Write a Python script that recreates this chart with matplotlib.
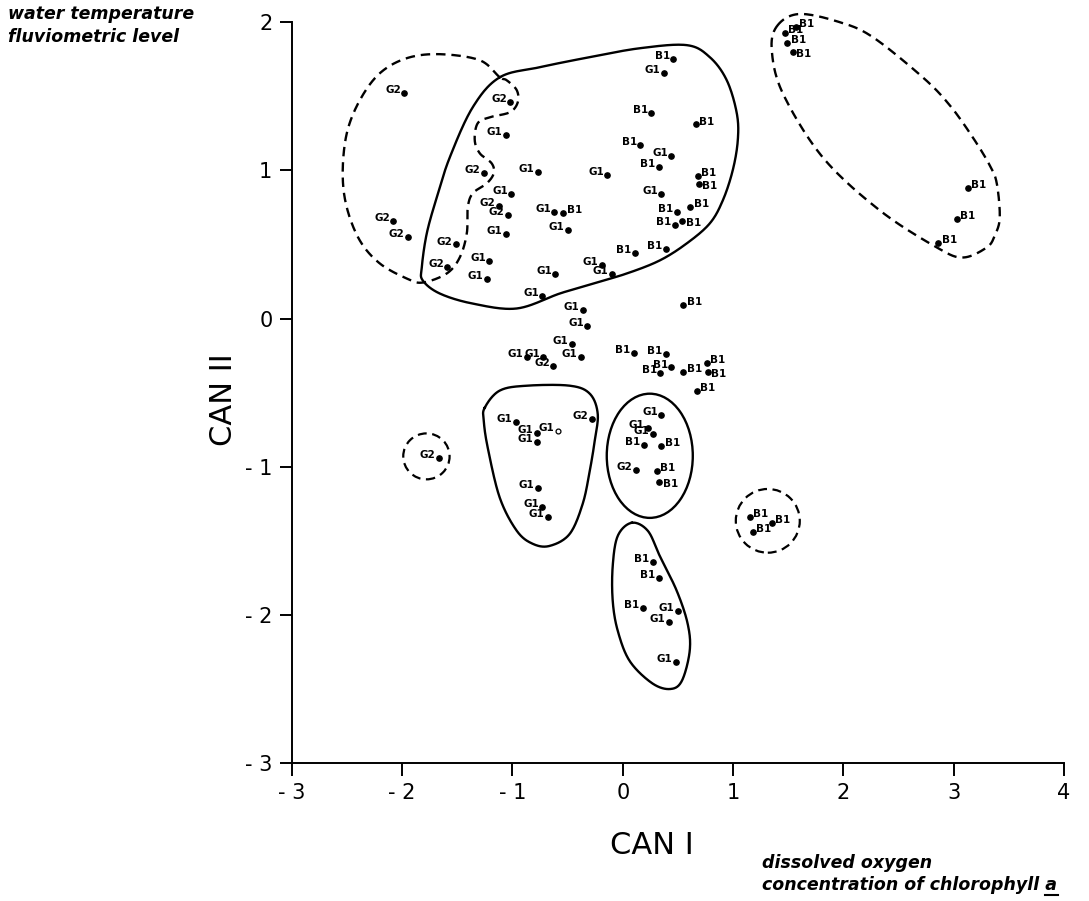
import numpy as np
import matplotlib
matplotlib.use("Agg")
import matplotlib.pyplot as plt
from matplotlib.patches import Ellipse
from matplotlib.lines import Line2D

# canonical scores
g1_x = [-1.06, -0.77, -0.14, -1.01, -0.62, -0.50, -1.06, -1.21, -1.23, -0.61, -0.19, -0.10,
        -0.73, -0.36, 0.37, 0.44, 0.35, -0.32, -0.46, -0.87, -0.72, -0.38, -0.97, -0.78,
        -0.78, -0.77, -0.73, -0.68, 0.35, 0.23, 0.27, 0.50, 0.42, 0.48]
g1_y = [1.24, 0.99, 0.97, 0.84, 0.72, 0.60, 0.57, 0.39, 0.27, 0.30, 0.36, 0.30,
        0.15, 0.06, 1.66, 1.10, 0.84, -0.05, -0.17, -0.26, -0.26, -0.26, -0.70, -0.77,
        -0.83, -1.14, -1.27, -1.34, -0.65, -0.74, -0.78, -1.97, -2.05, -2.32]
g1_open_x = [-0.59]
g1_open_y = [-0.76]

g2_x = [-1.98, -1.02, -1.26, -1.12, -1.04, -2.08, -1.95, -1.51, -1.59, -0.63, -0.28, 0.12, -1.67]
g2_y = [1.52, 1.46, 0.98, 0.76, 0.70, 0.66, 0.55, 0.50, 0.35, -0.32, -0.68, -1.02, -0.94]

b1_x = [-0.54, 0.46, 0.26, 0.66, 0.16, 0.33, 0.68, 0.69, 0.49, 0.61, 0.47, 0.54, 0.11, 0.39,
        0.55, 0.10, 0.39, 0.44, 0.34, 0.55, 0.76, 0.77, 0.67, 0.19, 0.35, 0.31, 0.33,
        0.27, 0.33, 0.18, 1.57, 1.47, 1.49, 1.54, 3.13, 3.03, 2.86, 1.15, 1.35, 1.18]
b1_y = [0.71, 1.75, 1.39, 1.31, 1.17, 1.02, 0.96, 0.91, 0.72, 0.75, 0.63, 0.66, 0.44, 0.47,
        0.09, -0.23, -0.24, -0.33, -0.37, -0.36, -0.30, -0.36, -0.49, -0.85, -0.86, -1.03, -1.10,
        -1.64, -1.75, -1.95, 1.97, 1.93, 1.86, 1.80, 0.88, 0.67, 0.51, -1.34, -1.38, -1.44]
# label side: l = left, r = right, R = right and below
b1_side = ['r', 'l', 'l', 'r', 'l', 'l', 'r', 'R', 'l', 'r', 'l', 'R', 'l', 'l',
           'r', 'l', 'l', 'l', 'l', 'r', 'r', 'R', 'r', 'l', 'r', 'r', 'R',
           'l', 'l', 'l', 'r', 'r', 'r', 'R', 'r', 'r', 'r', 'r', 'r', 'r']

# hand-drawn group outlines (data units)
blob_x = [-1.115, -0.752, -0.299, 0.154, 0.580, 0.789, 0.943, 1.034, 1.043, 0.997, 0.907, 0.789,
          0.580, 0.335, 0.036, -0.272, -0.571, -0.961, -1.360, -1.659, -1.813, -1.822, -1.777,
          -1.686, -1.568, -1.360]
blob_y = [1.628, 1.696, 1.764, 1.824, 1.845, 1.764, 1.608, 1.385, 1.203, 1.000, 0.797, 0.642,
          0.507, 0.392, 0.304, 0.236, 0.169, 0.068, 0.101, 0.169, 0.257, 0.345, 0.574,
          0.818, 1.088, 1.426]
g2_blob_x = [-1.115, -1.296, -1.659, -1.958, -2.203, -2.384, -2.502, -2.539, -2.502, -2.384,
             -2.203, -1.958, -1.813, -1.596, -1.478, -1.414, -1.405, -1.360, -1.233, -1.170,
             -1.188, -1.296, -1.342, -1.315, -1.206, -1.024, -0.952, -0.961, -1.052]
g2_blob_y = [1.628, 1.743, 1.784, 1.757, 1.655, 1.473, 1.250, 0.980, 0.750, 0.527,
             0.372, 0.270, 0.243, 0.304, 0.412, 0.574, 0.750, 0.845, 0.912, 0.980,
             1.047, 1.115, 1.203, 1.318, 1.358, 1.392, 1.459, 1.541, 1.608]
b1_oval_x = [1.40, 1.60, 1.967, 2.267, 2.720, 2.965, 3.173, 3.327, 3.391, 3.418, 3.373,
             3.300, 3.082, 2.847, 2.330, 1.813, 1.451, 1.351]
b1_oval_y = [1.975, 2.055, 2.000, 1.899, 1.628, 1.439, 1.223, 1.034, 0.912, 0.682, 0.561,
             0.480, 0.412, 0.480, 0.730, 1.088, 1.520, 1.811]
g1_low_x = [-1.251, -1.115, -0.870, -0.481, -0.299, -0.227, -0.254, -0.299, -0.363, -0.481,
            -0.662, -0.816, -0.961, -1.115, -1.224, -1.260]
g1_low_y = [-0.601, -0.486, -0.453, -0.453, -0.507, -0.642, -0.824, -1.027, -1.250, -1.453,
            -1.534, -1.520, -1.432, -1.209, -0.872, -0.689]
low_oval_x = [0.082, 0.227, 0.335, 0.490, 0.589, 0.607, 0.535, 0.426, 0.263, 0.063, -0.045,
              -0.091, -0.091, -0.045]
low_oval_y = [-1.378, -1.432, -1.601, -1.838, -2.061, -2.243, -2.446, -2.500, -2.459, -2.311,
              -2.108, -1.905, -1.669, -1.466]

dash = (0, (4, 2.5))


def closed_curve(xs, ys, n=24):
    # periodic Catmull-Rom through the outline points
    P = np.column_stack([xs, ys])
    N = len(P)
    t = np.linspace(0, 1, n, endpoint=False)[:, None]
    segs = []
    for i in range(N):
        p0, p1, p2, p3 = P[i - 1], P[i], P[(i + 1) % N], P[(i + 2) % N]
        segs.append(0.5 * (2 * p1 + (p2 - p0) * t + (2 * p0 - 5 * p1 + 4 * p2 - p3) * t ** 2
                           + (3 * p1 - p0 - 3 * p2 + p3) * t ** 3))
    pts = np.vstack(segs + [P[:1]])
    return pts[:, 0], pts[:, 1]


fig = plt.figure(figsize=(10.89, 9.01), dpi=100)
ax = fig.add_axes([0.268, 0.153, 0.709, 0.8224])

for xs, ys, ls in [(blob_x, blob_y, '-'), (g2_blob_x, g2_blob_y, dash),
                   (b1_oval_x, b1_oval_y, dash), (g1_low_x, g1_low_y, '-'),
                   (low_oval_x, low_oval_y, '-')]:
    cx, cy = closed_curve(xs, ys)
    ax.plot(cx, cy, color='black', lw=1.7, ls=ls, clip_on=False)

ax.add_patch(Ellipse((0.245, -0.926), 0.78, 0.838, fill=False, lw=1.7, color='black'))
ax.add_patch(Ellipse((-1.78, -0.93), 0.42, 0.31, fill=False, lw=1.6, ls=dash, color='black'))
ax.add_patch(Ellipse((1.315, -1.365), 0.58, 0.43, fill=False, lw=1.6, ls=dash, color='black'))

lab_kw = dict(fontsize=7.5, fontweight='bold', textcoords='offset points')


def draw_group(xs, ys, name, sides=None):
    ax.plot(xs, ys, 'o', color='black', ms=3.8, clip_on=False)
    for i, (x, y) in enumerate(zip(xs, ys)):
        side = 'l' if sides is None else sides[i]
        if side == 'r':
            ax.annotate(name, (x, y), xytext=(2.5, -1.5), ha='left', va='bottom', **lab_kw)
        elif side == 'R':
            ax.annotate(name, (x, y), xytext=(2.5, 2), ha='left', va='top', **lab_kw)
        else:
            ax.annotate(name, (x, y), xytext=(-2.5, -1.5), ha='right', va='bottom', **lab_kw)


draw_group(g1_x, g1_y, 'G1')
draw_group(g2_x, g2_y, 'G2')
draw_group(b1_x, b1_y, 'B1', b1_side)
ax.plot(g1_open_x, g1_open_y, 'o', mfc='white', mec='black', ms=3.5, mew=0.9)
for x, y in zip(g1_open_x, g1_open_y):
    ax.annotate('G1', (x, y), xytext=(-2.5, -1.5), ha='right', va='bottom', **lab_kw)

ax.set_xlim(-3, 4)
ax.set_ylim(-3, 2)
ax.set_xticks(range(-3, 5))
ax.set_yticks(range(-3, 3))
ax.set_xticklabels([str(v).replace('-', '- ') for v in range(-3, 5)])
ax.set_yticklabels([str(v).replace('-', '- ') for v in range(-3, 3)])
for s in ['top', 'right']:
    ax.spines[s].set_visible(False)
for s in ['left', 'bottom']:
    ax.spines[s].set_linewidth(1.4)
ax.tick_params(direction='out', length=9, width=1.4, labelsize=15, pad=5)

ax.set_xlabel('CAN I', fontsize=22)
ax.xaxis.set_label_coords(0.466, -0.111)
ax.xaxis.label.set_va('center')
ax.set_ylabel('CAN II', fontsize=22)
ax.yaxis.set_label_coords(-0.088, 0.49)
ax.yaxis.label.set_va('center')

note_kw = dict(fontsize=12.5, fontstyle='oblique', fontweight='bold', linespacing=1.3)
fig.text(0.007, 0.994, 'water temperature\nfluviometric level', ha='left', va='top', **note_kw)
t2 = fig.text(0.700, 0.008, 'dissolved oxygen\nconcentration of chlorophyll a',
              ha='left', va='bottom', **note_kw)

# underline the final "a"
fig.canvas.draw()
r = fig.canvas.get_renderer()
bb = t2.get_window_extent(r)
ta = fig.text(0, 0, 'a', **note_kw)
wa = ta.get_window_extent(r).width
ta.remove()
W, H = fig.bbox.width, fig.bbox.height
fig.add_artist(Line2D([(bb.x1 - wa - 1) / W, (bb.x1 + 1) / W], [(bb.y0 - 1) / H] * 2,
                      color='black', lw=1.5))

fig.savefig('out.png', dpi=100)
